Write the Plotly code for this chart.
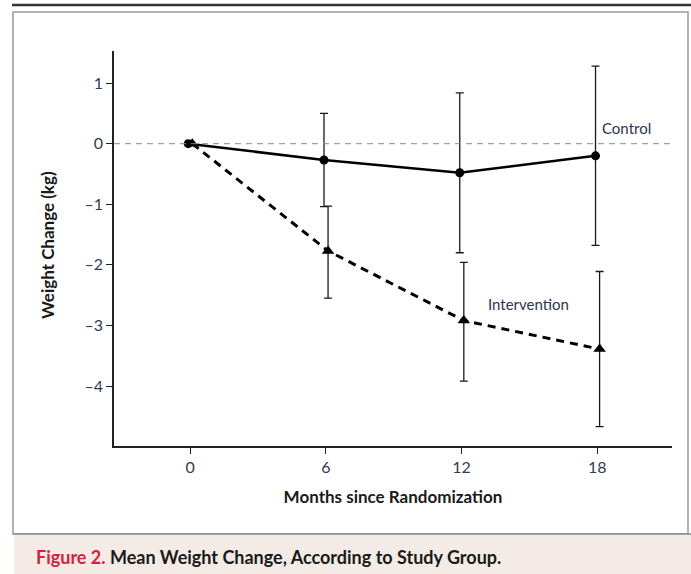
import plotly.graph_objects as go

months = [0, 6, 12, 18]
control_mean = [0.0, -0.27, -0.48, -0.20]
control_upper = [0.0, 0.50, 0.84, 1.28]
control_lower = [0.0, -1.04, -1.80, -1.68]
interv_mean = [0.0, -1.77, -2.92, -3.39]
interv_upper = [0.0, -1.03, -1.96, -2.11]
interv_lower = [0.0, -2.55, -3.92, -4.67]
x_ticks = [0, 6, 12, 18]
y_ticks = [1, 0, -1, -2, -3, -4]
y_ticktext = ["1", "0", "\u20131", "\u20132", "\u20133", "\u20134"]

FONT = "Lato"
c_off, i_off = -0.08, 0.1
cx = [m + c_off for m in months]
ix = [m + i_off for m in months]

W, H = 691, 574
L, R, T, B = 114, 672, 51, 446
PW, PH = R - L, B - T


def px(x):
    return (x - L) / PW


def py(y):
    return (B - y) / PH


fig = go.Figure()

# zero reference line
fig.add_hline(y=0, line=dict(color="#8a8a8a", width=1, dash="6px,5px"))

err_style = dict(type="data", symmetric=False, color="#1a1a1a", thickness=1.3, width=4)

fig.add_trace(go.Scatter(
    x=cx[1:], y=control_mean[1:], mode="markers",
    marker=dict(size=1, opacity=0), showlegend=False, hoverinfo="skip",
    error_y=dict(array=[u - m for u, m in zip(control_upper[1:], control_mean[1:])],
                 arrayminus=[m - l for l, m in zip(control_lower[1:], control_mean[1:])],
                 **err_style)))
fig.add_trace(go.Scatter(
    x=ix[1:], y=interv_mean[1:], mode="markers",
    marker=dict(size=1, opacity=0), showlegend=False, hoverinfo="skip",
    error_y=dict(array=[u - m for u, m in zip(interv_upper[1:], interv_mean[1:])],
                 arrayminus=[m - l for l, m in zip(interv_lower[1:], interv_mean[1:])],
                 **err_style)))

fig.add_trace(go.Scatter(
    x=ix, y=interv_mean, mode="lines+markers", name="Intervention",
    line=dict(color="black", width=3, dash="8px,6px"),
    marker=dict(symbol="triangle-up", size=11, color="black"), showlegend=False))
fig.add_trace(go.Scatter(
    x=cx, y=control_mean, mode="lines+markers", name="Control",
    line=dict(color="black", width=2.5),
    marker=dict(symbol="circle", size=9, color="black"), showlegend=False))

fig.add_annotation(x=18.1, y=0.26, text="Control", showarrow=False, xanchor="left",
                   font=dict(family=FONT, size=15, color="#2b3550"))
fig.add_annotation(x=13.1, y=-2.65, text="Intervention", showarrow=False, xanchor="left",
                   font=dict(family=FONT, size=15, color="#2b3550"))

# y axis title
fig.add_annotation(xref="paper", yref="paper", x=px(48), y=py(245), text="<b>Weight Change (kg)</b>",
                   showarrow=False, textangle=-90, xanchor="center", yanchor="middle",
                   font=dict(family=FONT, size=17, color="#1a1a1a"))

# frame and decorations
fig.add_shape(type="line", xref="paper", yref="paper", x0=px(12), x1=px(692),
              y0=py(5), y1=py(5), line=dict(color="#333", width=2.5))
fig.add_shape(type="rect", xref="paper", yref="paper",
              x0=px(13), x1=px(688), y0=py(534), y1=py(12),
              line=dict(color="#9a9a9a", width=1.5), fillcolor="rgba(0,0,0,0)", layer="below")
fig.add_shape(type="rect", xref="paper", yref="paper",
              x0=px(14), x1=px(692), y0=py(575), y1=py(534),
              line=dict(width=0), fillcolor="#f4ebe6", layer="below")
fig.add_shape(type="line", xref="paper", yref="paper",
              x0=px(13), x1=px(692), y0=py(534), y1=py(534),
              line=dict(color="#8a8a8a", width=1.5))
fig.add_annotation(xref="paper", yref="paper", x=px(34), y=py(557),
                   xanchor="left", yanchor="middle", showarrow=False,
                   text="<b><span style='color:#d4213d'>Figure 2.</span> Mean Weight Change, According to Study Group.</b>",
                   font=dict(family=FONT, size=18, color="#1a1a1a"))

fig.update_xaxes(range=[-3.36, 21.3], tickvals=x_ticks, ticks="outside", ticklen=6,
                 tickcolor="#222", showline=True, linecolor="#222", linewidth=1.5,
                 showgrid=False, zeroline=False,
                 tickfont=dict(family=FONT, size=16, color="#333b4f"),
                 title=dict(text="<b>Months since Randomization</b>", standoff=16,
                            font=dict(family=FONT, size=17, color="#1a1a1a")))
fig.update_yaxes(range=[-4.99, 1.53], tickvals=y_ticks, ticktext=y_ticktext, ticks="outside",
                 ticklen=6, tickcolor="#222", showline=True, linecolor="#222", linewidth=1.5,
                 showgrid=False, zeroline=False,
                 tickfont=dict(family=FONT, size=16, color="#333b4f"))

fig.update_layout(width=W, height=H, margin=dict(l=L, r=W - R, t=T, b=H - B),
                  paper_bgcolor="white", plot_bgcolor="white")

fig.write_html("out.html", config={"displayModeBar": False},
               post_script="document.body.style.margin='0';document.body.style.overflow='hidden';")
